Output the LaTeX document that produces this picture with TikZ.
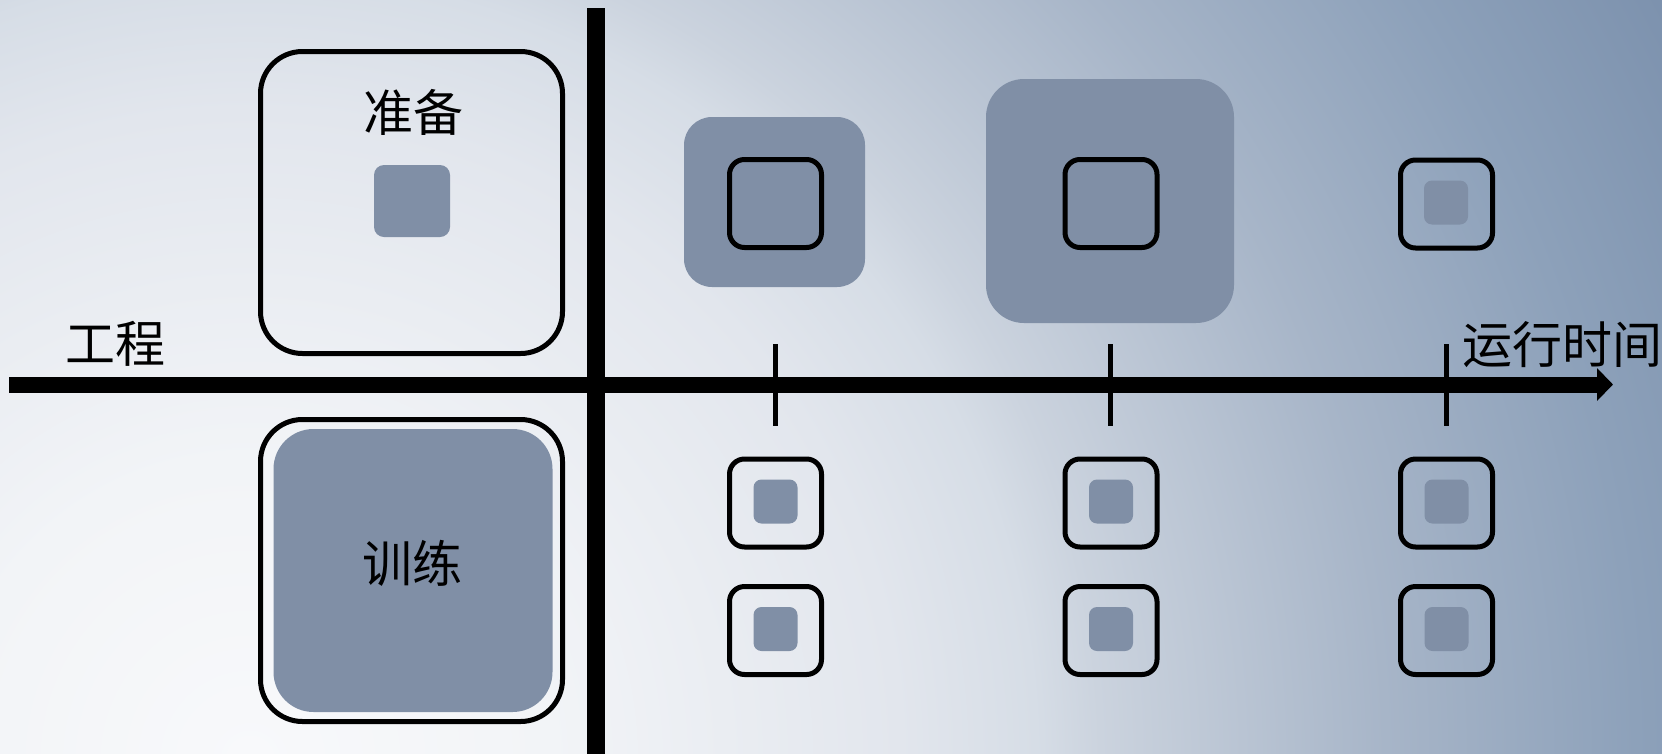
\documentclass[tikz,border=0pt]{standalone}
\usepackage{fontspec}
\setmainfont{Noto Sans CJK SC}
\usetikzlibrary{arrows.meta}

% background glow colours, from the bright lower left outwards
\definecolor{bg0}{HTML}{F8F9FB}
\definecolor{bg1}{HTML}{F2F4F7}
\definecolor{bg2}{HTML}{E2E6ED}
\definecolor{bg3}{HTML}{D6DDE6}
\definecolor{bg4}{HTML}{CBD3DE}
\definecolor{bg5}{HTML}{A7B5C8}
\definecolor{bg6}{HTML}{8DA1BA}
\definecolor{bg7}{HTML}{7D92AE}
\definecolor{bg8}{HTML}{7389A6}
\definecolor{slate}{HTML}{808FA6}

% 1bp of this shading = 100 units once spread over the 5000-unit square below
\pgfdeclareradialshading{bgglow}{\pgfpoint{0bp}{0bp}}{%
  color(0bp)=(bg0); color(3bp)=(bg1); color(6.5bp)=(bg2); color(7.86bp)=(bg3);
  color(8.5bp)=(bg4); color(11.35bp)=(bg5); color(13.85bp)=(bg6);
  color(16bp)=(bg7); color(20bp)=(bg8); color(50bp)=(bg8)}

\tikzset{
  label/.style={font=\fontsize{50}{60}\selectfont, inner sep=0pt},
  frame/.style={draw=black, line width=5pt, inner sep=0pt},
  slot/.style={frame, rounded corners=15pt, minimum width=92pt, minimum height=88pt},
  chip/.style={fill=slate, rounded corners=8pt, inner sep=0pt, minimum size=44pt},
  panel/.style={fill=slate, inner sep=0pt},
  tick/.style={line width=5pt},
}

\begin{document}
\begin{tikzpicture}[x=1pt, y=-1pt]
\useasboundingbox (0,0) rectangle (1662,753);

% background
\begin{scope}
  \clip (0,0) rectangle (1662,753);
  \shade[shading=bgglow] (-2250,-1740) rectangle (2750,3260);
\end{scope}

% engineering quadrant: preparation and training
\node[frame, rounded corners=42pt, minimum width=302pt, minimum height=302pt] (prep) at (411.5,202.5) {};
\node[panel, rounded corners=10pt, minimum width=76pt, minimum height=72pt] (prepchip) at (412,201) {};
\node[label] (preptext) at (413,112) {准备};

\node[frame, rounded corners=42pt, minimum width=302pt, minimum height=302pt] (train) at (411.5,570.5) {};
\node[panel, rounded corners=40pt, minimum width=279pt, minimum height=283pt] (trainfill) at (413,570.5) {};
\node[label] (traintext) at (412.5,563) {训练};

% runtime quadrant, top row
\node[panel, rounded corners=28pt, minimum width=181pt, minimum height=170pt] (panelA) at (774.5,202) {};
\node[panel, rounded corners=38pt, minimum width=248pt, minimum height=244pt] (panelB) at (1110,201) {};
\node[slot] (a1) at (775.5,203.5) {};
\node[slot] (b1) at (1111,203.5) {};
\node[slot] (c1) at (1446.5,204) {};
\node[chip] (c1chip) at (1446,202.5) {};

% runtime quadrant, lower rows
\foreach \cx/\nm in {775.5/a, 1111/b, 1446.5/c}{
  \node[slot] (\nm2) at (\cx,503) {};
  \node[chip] (\nm2chip) at (\cx,501.5) {};
  \node[slot] (\nm3) at (\cx,630.5) {};
  \node[chip] (\nm3chip) at (\cx,629) {};
}

% axes
\coordinate (hstart) at (9,384.5);
\coordinate (hend) at (1613,384.5);
\coordinate (vtop) at (596,8);
\coordinate (vbot) at (596,760);
\draw[line width=18pt] (vtop) -- (vbot);
\draw[line width=16pt, -{Triangle[length=16pt, width=32pt]}] (hstart) -- (hend);

% ticks on the time axis
\foreach \tx/\nm in {775/ta, 1110/tb, 1446/tc}{
  \coordinate (\nm top) at (\tx,344);
  \coordinate (\nm bot) at (\tx,426);
  \draw[tick] (\nm top) -- (\nm bot);
}

% axis labels
\node[label] (eng) at (115,344) {工程};
\node[label] (run) at (1562,345) {运行时间};
\end{tikzpicture}
\end{document}
